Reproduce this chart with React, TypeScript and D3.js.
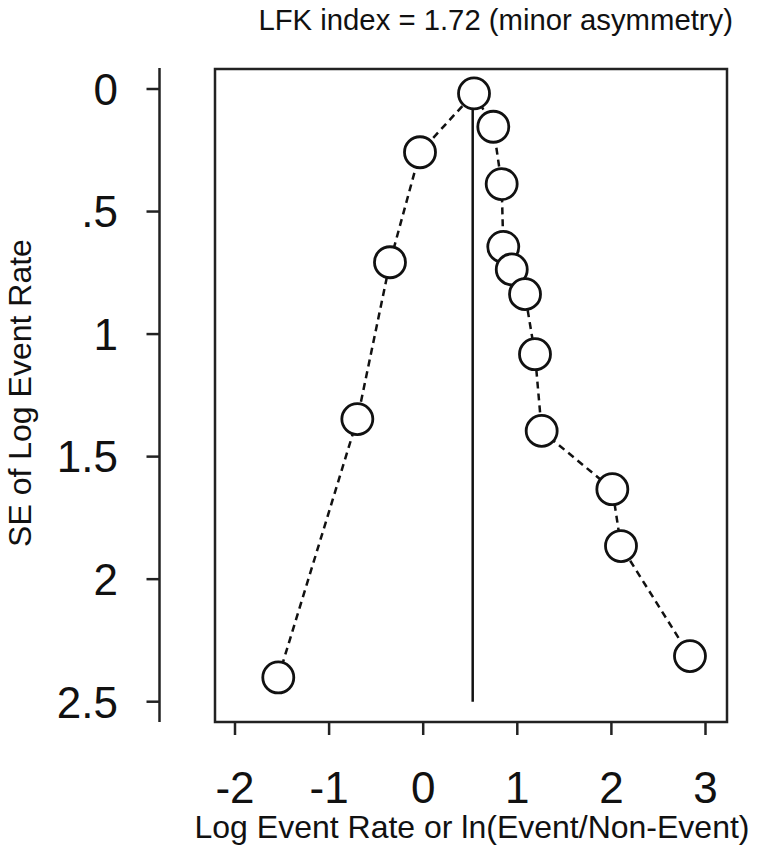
import * as d3 from "d3";

// Doi plot points, ordered along the dashed line (left tail -> top -> right tail)
const effect = [-1.54, -0.70, -0.353, -0.034, 0.54, 0.745, 0.834, 0.851, 0.941, 1.082, 1.188, 1.259, 2.01, 2.102, 2.835];
const se = [2.401, 1.347, 0.707, 0.258, 0.018, 0.154, 0.388, 0.644, 0.736, 0.837, 1.082, 1.395, 1.633, 1.865, 2.314];

const xTicks = [-2, -1, 0, 1, 2, 3];
const yTicks = [0, 0.5, 1, 1.5, 2, 2.5];
const yTickLabels = ["0", ".5", "1", "1.5", "2", "2.5"];

const refX = 0.526;
const refSe = [0, 2.5];

const title = "LFK index = 1.72 (minor asymmetry)";
const xLabel = "Log Event Rate or ln(Event/Non-Event)";
const yLabel = "SE of Log Event Rate";

const width = 757;
const height = 851;
const box = { left: 215, right: 727, top: 69, bottom: 722 };
const yAxisX = 159.5;
const font = "'Liberation Sans', Arial, sans-serif";

export default function App() {
  const x = d3.scaleLinear().domain([-2, 3]).range([235, 705.5]);
  const y = d3.scaleLinear().domain([0, 2.5]).range([89, 701.7]);

  const line = d3
    .line<number>()
    .x((d) => x(d))
    .y((_, i) => y(se[i]));

  return (
    <svg
      width={width}
      height={height}
      style={{ position: "absolute", left: 0, top: 0, background: "#fff" }}
      fontFamily={font}
    >
      <rect x={0} y={0} width={width} height={height} fill="#fff" />
      <text x={733} y={30} fontSize={29.3} textAnchor="end" fill="#111">
        {title}
      </text>

      {/* y axis */}
      <line x1={yAxisX} x2={yAxisX} y1={box.top - 1} y2={box.bottom} stroke="#222" strokeWidth={2.5} />
      {yTicks.map((t, i) => (
        <g key={t}>
          <line x1={yAxisX - 13} x2={yAxisX} y1={y(t)} y2={y(t)} stroke="#222" strokeWidth={2.5} />
          <text x={118} y={y(t)} dy="0.36em" fontSize={44} textAnchor="end" fill="#111">
            {yTickLabels[i]}
          </text>
        </g>
      ))}
      <text
        transform={`translate(31, 393) rotate(-90)`}
        fontSize={32}
        textAnchor="middle"
        fill="#111"
      >
        {yLabel}
      </text>

      {/* x axis */}
      {xTicks.map((t) => (
        <g key={t}>
          <line x1={x(t)} x2={x(t)} y1={box.bottom} y2={box.bottom + 13} stroke="#222" strokeWidth={2.5} />
          <text x={x(t)} y={803} fontSize={44} textAnchor="middle" fill="#111">
            {t}
          </text>
        </g>
      ))}
      <text x={472} y={838} fontSize={32} textAnchor="middle" fill="#111">
        {xLabel}
      </text>

      {/* plot box */}
      <rect
        x={box.left}
        y={box.top}
        width={box.right - box.left}
        height={box.bottom - box.top}
        fill="none"
        stroke="#222"
        strokeWidth={2.5}
      />

      <line x1={x(refX)} x2={x(refX)} y1={y(refSe[0])} y2={y(refSe[1])} stroke="#111" strokeWidth={2.5} />
      <path d={line(effect) ?? ""} fill="none" stroke="#111" strokeWidth={2.5} strokeDasharray="7,5" />
      {effect.map((d, i) => (
        <circle key={i} cx={x(d)} cy={y(se[i])} r={15.5} fill="#fff" stroke="#111" strokeWidth={2.8} />
      ))}
    </svg>
  );
}
